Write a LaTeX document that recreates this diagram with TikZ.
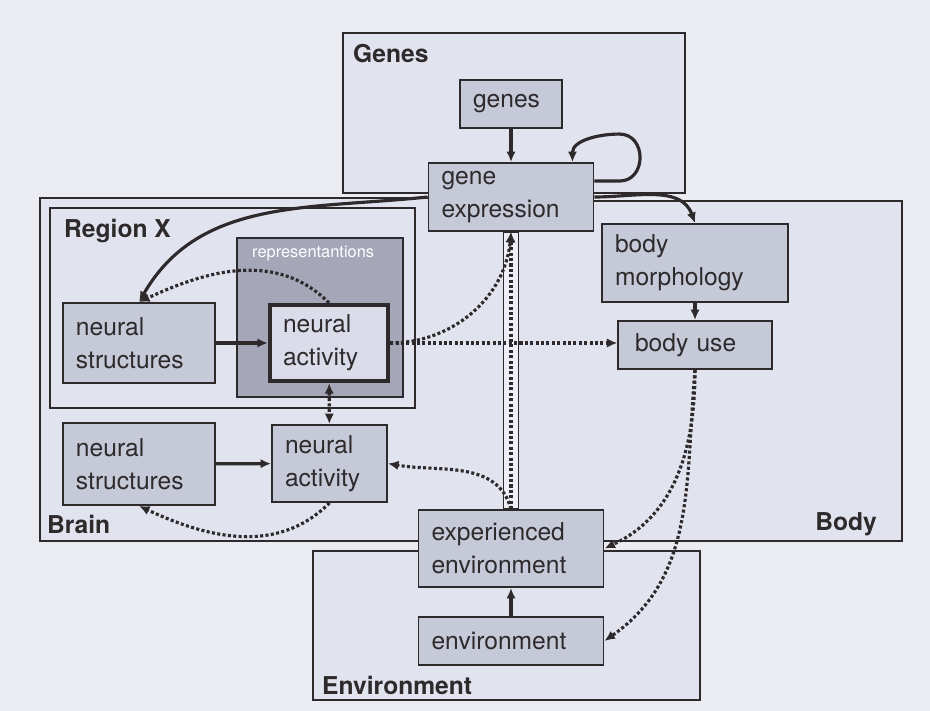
\documentclass[tikz,border=0pt]{standalone}
\usepackage{fontspec}
\setmainfont{TeX Gyre Heros}
\usetikzlibrary{arrows.meta,calc}
\definecolor{pagebg}{HTML}{EBECF2}
\definecolor{areafill}{HTML}{E1E3EE}
\definecolor{boxfill}{HTML}{C6C9D8}
\definecolor{repfill}{HTML}{A5A7B8}
\definecolor{actfill}{HTML}{DADDE9}
\definecolor{chanfill}{HTML}{EDEEF6}
\definecolor{ink}{HTML}{2E2A2C}
\tikzset{
  area/.style = {draw=ink, fill=areafill, line width=1.3pt},
  arealabel/.style = {anchor=base west, inner sep=0pt, text=ink,
    font=\fontsize{21}{25}\selectfont\bfseries},
  box/.style = {draw=ink, fill=boxfill, line width=1.6pt, align=left,
    inner xsep=0.39cm, inner ysep=2pt, text=ink,
    font=\fontsize{21}{28}\selectfont},% plain box
  actbox/.style = {box, fill=actfill, line width=3.6pt},% box in representations
  repbox/.style = {fill=repfill, draw=ink, line width=1.3pt},
  channel/.style = {fill=chanfill, draw=ink, line width=1.1pt},
  arr/.style = {-{Latex[length=9pt,width=8pt]}, draw=ink, line width=2.7pt},
  dotarr/.style = {arr, dash pattern=on 2.6pt off 2pt},
  dotboth/.style = {dotarr, {Latex[length=9pt,width=8pt]}-{Latex[length=9pt,width=8pt]}}
}
\begin{document}
\begin{tikzpicture}[x=0.03cm, y=0.03cm]
	\fill[pagebg] (0,0) rectangle (930,-711);
	% areas
	\draw[area] (40,-198) rectangle (511,-541);
	\draw[area] (511,-201) rectangle (902,-541);
	\draw[area] (50,-208) rectangle (415,-408);
	\draw[repbox] (237,-238) rectangle (403,-397);
	\draw[area] (343,-33) rectangle (685,-193);
	\draw[area] (313,-551) rectangle (700,-700);
	\node[arealabel] (lgenes) at (353,-63) {Genes};
	\node[arealabel] (lregion) at (64,-238) {Region X};
	\node[arealabel] (lbrain) at (47,-533) {Brain};
	\node[arealabel, anchor=base east] (lbody) at (877,-530) {Body};
	\node[arealabel] (lenv) at (322,-694) {Environment};
	\node[anchor=base west, inner sep=0pt, text=white,
	  font=\fontsize{14}{16}\selectfont] (lrep) at (252,-258) {representantions};
	% boxes
	\node[box, text width=2.28cm, minimum height=1.44cm] (genes) at (511,-104) {genes};
	\node[box, text width=4.17cm, minimum height=2.04cm] (gexp) at (511,-197) {gene\\expression};
	\node[box, text width=4.8cm, minimum height=2.34cm] (bmorph) at (695,-263) {body\\morphology};
	\node[box, text width=3.6cm, minimum height=1.44cm, inner xsep=0.5cm] (buse) at (695,-345) {body use};
	\node[box, text width=3.78cm, minimum height=2.4cm] (nstructA) at (139,-343) {neural\\structures};
	\node[actbox, text width=2.76cm, minimum height=2.28cm] (nactA) at (329,-343) {neural\\activity};
	\node[box, text width=3.78cm, minimum height=2.46cm] (nstructB) at (139,-464) {neural\\structures};
	\node[box, text width=2.67cm, minimum height=2.31cm] (nactB) at (329.5,-463.5) {neural\\activity};
	\node[box, text width=4.77cm, minimum height=2.31cm] (expenv) at (511,-548.5) {experienced\\environment};
	\node[box, text width=4.77cm, minimum height=1.44cm] (env) at (511,-641) {environment};
	% channel between gene expression and experienced environment
	\draw[channel] ($(gexp.south)+(-7.5,0)$) rectangle ($(expenv.north)+(7.5,0)$);
	% solid arrows
	\draw[arr] (genes) -- (gexp);
	\draw[arr] ($(gexp.north east)+(0,-19)$) -- ++(25,0)
	  to[out=0,in=0,looseness=1.5] ++(0,47)
	  to[out=180,in=90] ($(gexp.north east)+(-22,0)$);
	\draw[arr] (gexp.west) to[out=186,in=60] (nstructA.north);
	\draw[arr] (gexp.east) to[out=0,in=110] (bmorph.north);
	\draw[arr] (bmorph) -- (buse);
	\draw[arr] (nstructA) -- (nactA);
	\draw[arr] (nstructB) -- (nactB);
	\draw[arr] (env) -- (expenv);
	% dotted arrows
	\draw[dotarr] (nactA.north) to[out=135,in=25] (nstructA.north);
	\draw[dotarr] (nactA.east) -- (nactA.east -| buse.west);
	\draw[dotarr] (nactA.east) to[out=0,in=-95] (gexp.south);
	\draw[dotboth] (nactA) -- (nactB);
	\draw[dotarr] (nactB.south) to[out=-135,in=-25] (nstructB.south);
	\draw[dotarr] (expenv.north) to[out=105,in=-10] (nactB.east);
	\draw[dotarr] (expenv.north) -- (gexp.south);
	\draw[dotarr] (buse.south) to[out=-90,in=25] (expenv.east);
	\draw[dotarr] (buse.south) to[out=-95,in=35] (env.east);
\end{tikzpicture}
\end{document}
